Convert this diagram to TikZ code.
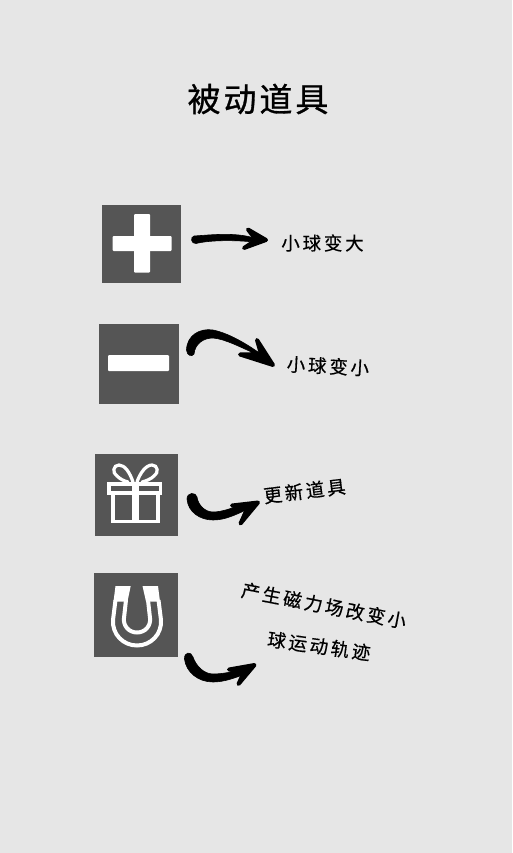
\documentclass[tikz,border=0pt]{standalone}
\usepackage{fontspec}
\newfontfamily\cjkA[LetterSpace=15,FakeBold=0.5]{Noto Sans CJK SC}
\newfontfamily\cjkB[LetterSpace=9,FakeBold=0.9]{Noto Sans CJK SC}
\definecolor{bg}{HTML}{E6E6E6}
\definecolor{boxgrey}{HTML}{555555}
\tikzset{
  x=1pt,y=-1pt,
  iconbox/.style={fill=boxgrey,draw=none,inner sep=0pt,anchor=north west},
  glyph/.style={fill=white,rounded corners=1pt},
  glyphline/.style={draw=white,line width=3.2pt,line join=miter},
  arrowshaft/.style={fill=black,draw=black,line width=0.6pt,line join=round},
  arrowhead/.style={fill=black,draw=black,line width=4pt,line join=round},
  lab/.style={inner sep=0pt,font=\cjkA\fontsize{18.5}{20}\selectfont,text=black},
}
\begin{document}
\begin{tikzpicture}
\useasboundingbox (0,0) rectangle (512,853);
\fill[bg] (0,0) rectangle (512,853);
\node[inner sep=0pt,font=\cjkB\fontsize{33}{36}\selectfont] (title) at (258,99) {被动道具};
% icons
\node[iconbox,minimum width=79pt,minimum height=78pt] (plus) at (102,205) {};
\node[iconbox,minimum width=80pt,minimum height=80pt] (minus) at (99,324) {};
\node[iconbox,minimum width=83pt,minimum height=82pt] (gift) at (95,454) {};
\node[iconbox,minimum width=84pt,minimum height=84pt] (magnet) at (94,573) {};
% plus glyph
\fill[glyph] (112.5,236) rectangle (171.7,251);
\fill[glyph] (134,214) rectangle (150,272.7);
% minus glyph
\fill[glyph] (108,355) rectangle (169,371);
% gift glyph
\draw[glyphline] (109,484) rectangle (160.5,493);
\draw[glyphline] (113,493) -- (113,521.5) -- (158,521.5) -- (158,493);
\fill[white] (131.5,483) rectangle (138.5,522);
\draw[glyphline,line cap=round] (133,482) .. controls (130,473) and (125,465) .. (119,465) .. controls (113,465) and (112,473) .. (117,476) .. controls (120,479) and (124,481) .. (128,482);
\draw[glyphline,line cap=round] (137,482) .. controls (140,473) and (146,465) .. (152,465) .. controls (158,465) and (159,473) .. (154,476) .. controls (151,479) and (146,481) .. (142,482);
% magnet glyph
\fill[white] (115.5,586) -- (130.7,586) -- (127.5,601.5) -- (113.5,601.5) -- cycle;
\fill[white] (142.5,586) -- (158,586) -- (160,601.5) -- (146,601.5) -- cycle;
\draw[white,line width=4pt] (115.5,600) -- (113,620) .. controls (112,634) and (123,645.5) .. (137,645.5) .. controls (151,645.5) and (162,634) .. (161,620) -- (158.5,600);
\draw[white,line width=4pt] (126,600) -- (124,618) .. controls (123,626) and (129,632.5) .. (137,632.5) .. controls (145,632.5) and (151,626) .. (150,618) -- (148,600);
% arrow tips
\coordinate (a1e) at (266,240);
\coordinate (a2e) at (273,365);
\coordinate (a3e) at (258,502.5);
\coordinate (a4e) at (254.5,665);
% labels
\node[lab] (l1) at (322.5,243) {小球变大};
\node[lab,rotate=-3] (l2) at (328,366) {小球变小};
\node[lab,rotate=7] (l3) at (304.5,491) {更新道具};
\node[lab,rotate=-11] (l4) at (324,605.5) {产生磁力场改变小};
\node[lab,rotate=-8] (l5) at (319,646) {球运动轨迹};
% arrows
\path[arrowshaft] (194,236) .. controls (210,235) and (235,232) .. (254,238) -- (254,242) .. controls (235,240) and (210,240) .. (196,243.5) .. controls (191,244) and (190,237) .. cycle;
\path[arrowhead] (248,229.5) -- (a1e) -- (244,248) -- (256,240) -- cycle;
\path[arrowshaft] (186.5,350) .. controls (187,335) and (200,328) .. (213,330) .. controls (228,333) and (245,343) .. (258,352) -- (256,354) .. controls (240,347) and (225,339) .. (213,338) .. controls (203,338) and (195,344) .. (194,354) .. controls (192,357) and (187,356) .. cycle;
\path[arrowhead] (257,340) -- (a2e) -- (240,354.5) -- (261,354) -- cycle;
\path[arrowshaft] (187,499) .. controls (188,512) and (200,520) .. (213,520) .. controls (225,520) and (235,515) .. (246,510) -- (244,504) .. controls (232,508) and (222,512) .. (213,512) .. controls (205,512) and (198,505) .. (197,497) .. controls (196,492) and (187,492) .. cycle;
\path[arrowhead] (232,505.5) -- (a3e) -- (240.5,523.5) -- (247,509) -- cycle;
\path[arrowshaft] (184.5,659) .. controls (186,672) and (198,682) .. (213,682) .. controls (224,682) and (234,678) .. (243,675) -- (241,669.5) .. controls (232,672) and (222,674) .. (213,674) .. controls (204,674) and (196,666) .. (193,657) .. controls (191,651) and (184,652) .. cycle;
\path[arrowhead] (229,669.5) -- (a4e) -- (238.5,684) -- (244,672) -- cycle;
\end{tikzpicture}
\end{document}
